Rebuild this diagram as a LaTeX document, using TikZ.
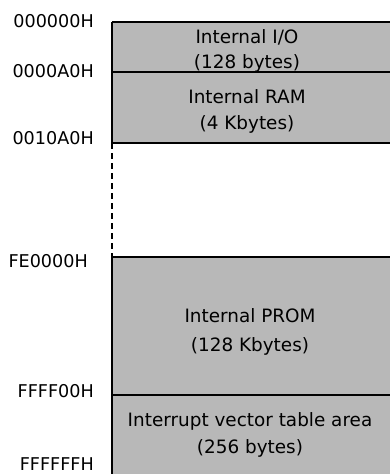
\documentclass[tikz,border=0pt]{standalone}
\usepackage{fontspec}
\setmainfont{DejaVu Sans}
\definecolor{dotfill}{gray}{0.72}
\begin{document}
\begin{tikzpicture}[x=1pt,y=-1pt,
  addr/.style={anchor=east,inner sep=0pt,font=\fontsize{17.6}{19}\selectfont},
  area/.style={align=center,inner sep=0pt,font=\fontsize{18.4}{20}\selectfont},
  edge/.style={line width=1.6pt},
  divide/.style={line width=1.2pt},
  side/.style={line width=1.1pt}]
\useasboundingbox (0,0) rectangle (389,474);
% shaded regions
\fill[dotfill] (112,22) rectangle (392,143);
\fill[dotfill] (112,257) rectangle (392,476);
% horizontal boundaries
\coordinate (t0l) at (112,22);  \coordinate (t0r) at (392,22);
\coordinate (t1l) at (112,72);  \coordinate (t1r) at (392,72);
\coordinate (t2l) at (112,143); \coordinate (t2r) at (392,143);
\coordinate (t3l) at (112,257); \coordinate (t3r) at (392,257);
\coordinate (t4l) at (112,395); \coordinate (t4r) at (392,395);
\coordinate (bot) at (112,476);
\draw[edge] (t0l) -- (t0r);
\draw[divide] (t1l) -- (t1r);
\draw[edge] (t2l) -- (t2r);
\draw[edge] (t3l) -- (t3r);
\draw[divide] (t4l) -- (t4r);
% left side
\draw[side] (t0l) -- (t2l);
\draw[side,dash pattern=on 6pt off 4pt] (t2l) -- (t3l);
\draw[side] (t3l) -- (bot);
% addresses
\node[addr] (a0) at (94,21) {000000H};
\node[addr] (a1) at (94,71) {0000A0H};
\node[addr] (a2) at (94,138) {0010A0H};
\node[addr] (a3) at (88,261) {FE0000H};
\node[addr] (a4) at (94,391) {FFFF00H};
\node[addr] (a5) at (94,464) {FFFFFFH};
% area labels
\node[area] (io1) at (247,37.5) {Internal I/O};
\node[area] (io2) at (247,63.5) {(128 bytes)};
\node[area] (ram1) at (247,96.5) {Internal RAM};
\node[area] (ram2) at (247,124.5) {(4 Kbytes)};
\node[area] (prom1) at (250,316) {Internal PROM};
\node[area] (prom2) at (250,346) {(128 Kbytes)};
\node[area] (iv1) at (250,421.5) {Interrupt vector table area};
\node[area] (iv2) at (250,448) {(256 bytes)};
\end{tikzpicture}
\end{document}
